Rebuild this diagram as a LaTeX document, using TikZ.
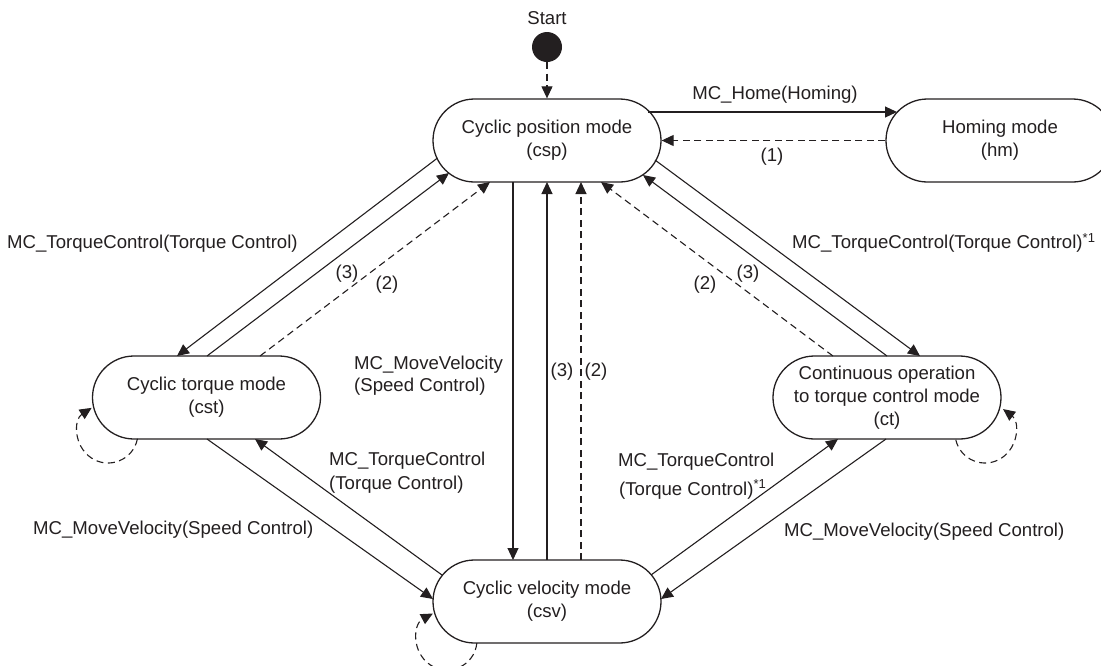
\documentclass[tikz,border=0pt]{standalone}
\usepackage{fontspec}
\setmainfont{Liberation Sans}
\usetikzlibrary{arrows.meta,calc}
\definecolor{ink}{HTML}{231F20}
\newcommand\labfont{\fontsize{18.6}{23}\selectfont}
\begin{document}
\begin{tikzpicture}[x=1pt,y=-1pt,
  mode/.style={draw=ink, line width=1.3pt, rounded corners=41.5pt, minimum width=228pt, minimum height=83pt, inner sep=0pt, align=center, font=\labfont, text=ink},
  lab/.style={inner sep=0pt, font=\labfont, text=ink},
  conn/.style={draw=ink, line width=1.1pt, -{Triangle[length=12pt,width=11pt]}},
  dconn/.style={conn, dash pattern=on 7pt off 4.5pt},
]
\useasboundingbox (0,0) rectangle (1101,665);
\clip (0,0) rectangle (1101,665);

% states
\node[circle, fill=ink, minimum size=30pt, inner sep=0pt] (start) at (547,47) {};
\node[lab, anchor=base] (startlab) at (547,24.5) {Start};
\node[mode] (csp) at (547,140.5) {Cyclic position mode\\(csp)};
\node[mode] (hm) at (1000,140.5) {Homing mode\\(hm)};
\node[mode] (cst) at (206.5,397.5) {Cyclic torque mode\\(cst)};
\node[mode] (ct) at (887,397.5) {Continuous operation\\to torque control mode\\(ct)};
\node[mode] (csv) at (547,601.5) {Cyclic velocity mode\\(csv)};

% start
\draw[dconn] (start.south) -- (csp.north);

% homing
\draw[conn] ($(csp)+(101,-28.5)$) -- ($(hm)+(-103,-28.5)$);
\draw[dconn] (hm.west) -- (csp.east);

% csp <-> cst
\draw[conn] ($(csp)+(-109.6,17.6)$) -- ($(cst)+(-29.5,-41.5)$);
\draw[conn] ($(cst)+(0.5,-41.5)$) -- ($(csp)+(-98,32.5)$);
\draw[dconn] ($(cst)+(53.5,-41.5)$) -- ($(csp)+(-57,41.5)$);

% csp <-> ct
\draw[conn] ($(csp)+(108,19.5)$) -- ($(ct)+(33,-41.5)$);
\draw[conn] ($(ct)+(0,-41.5)$) -- ($(csp)+(96,34.5)$);
\draw[dconn] ($(ct)+(-54,-41.5)$) -- ($(csp)+(54,41.5)$);

% csp <-> csv
\draw[conn] ($(csp)+(-34,41.5)$) -- ($(csv)+(-34,-41.5)$);
\draw[conn] ($(csv)+(0,-41.5)$) -- ($(csp)+(0,41.5)$);
\draw[dconn] ($(csv)+(34,-41.5)$) -- ($(csp)+(34,41.5)$);

% cst <-> csv
\draw[conn] ($(cst)+(0.5,41.5)$) -- ($(csv)+(-114,-2.5)$);
\draw[conn] ($(csv)+(-105,-26.5)$) -- ($(cst)+(48.5,41.5)$);

% csv <-> ct
\draw[conn] ($(csv)+(104,-26.5)$) -- ($(ct)+(-49,41.5)$);
\draw[conn] ($(ct)+(-1,41.5)$) -- ($(csv)+(114,-2.5)$);

% self loops
\draw[dconn] ($(cst)+(-69.05,41.22)$) .. controls (133.35,459.82) and (109.04,469.89) .. (91.22,457.87)
  .. controls (73.40,445.85) and (73.64,419.55) .. ($(cst)+(-114.84,10.34)$);
\draw[dconn] ($(csv)+(-70.16,41.64)$) .. controls (474.47,665.65) and (448.98,677.52) .. (430.22,664.87)
  .. controls (411.46,652.22) and (412.94,624.12) .. ($(csv)+(-114.08,12.01)$);
\draw[dconn] ($(ct)+(68.77,42.25)$) .. controls (960.45,460.03) and (983.87,469.51) .. (1001.34,458.16)
  .. controls (1018.81,446.81) and (1019.68,421.57) .. ($(ct)+(116.05,11.54)$);

% labels
\node[lab, anchor=base] (lhome) at (775,99.5) {MC\_Home(Homing)};
\node[lab, anchor=base] (lone) at (772,161.5) {(1)};
\node[lab, anchor=base west] (ltl) at (7,248.5) {MC\_TorqueControl(Torque Control)};
\node[lab, anchor=base] (l3a) at (347,278.5) {(3)};
\node[lab, anchor=base] (l2a) at (387,289.5) {(2)};
\node[lab, anchor=base west] (ltr) at (792,248.5) {MC\_TorqueControl(Torque Control)\textsuperscript{*1}};
\node[lab, anchor=base] (l3b) at (748,278.5) {(3)};
\node[lab, anchor=base] (l2b) at (705,289.5) {(2)};
\node[lab, anchor=base west] (lmv1) at (354,369.5) {MC\_MoveVelocity};
\node[lab, anchor=base west] (lmv2) at (354,391.5) {(Speed Control)};
\node[lab, anchor=base] (l3c) at (562,376.5) {(3)};
\node[lab, anchor=base] (l2c) at (596,376.5) {(2)};
\node[lab, anchor=base west] (ltc1) at (329,465.5) {MC\_TorqueControl};
\node[lab, anchor=base west] (ltc2) at (329,489.5) {(Torque Control)};
\node[lab, anchor=base west] (lmvl) at (33,534.5) {MC\_MoveVelocity(Speed Control)};
\node[lab, anchor=base west] (ltd1) at (618,466.5) {MC\_TorqueControl};
\node[lab, anchor=base west] (ltd2) at (619,495) {(Torque Control)\textsuperscript{*1}};
\node[lab, anchor=base west] (lmvr) at (784,536.5) {MC\_MoveVelocity(Speed Control)};
\end{tikzpicture}
\end{document}
